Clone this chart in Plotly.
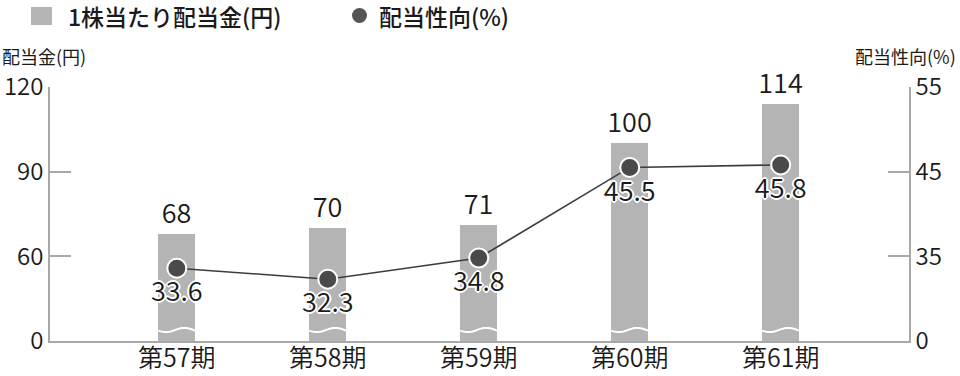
import numpy as np
import plotly.graph_objects as go

# ---- data ----
periods = ["第57期", "第58期", "第59期", "第60期", "第61期"]
dividend = [68, 70, 71, 100, 114]          # 1株当たり配当金(円)
payout = [33.6, 32.3, 34.8, 45.5, 45.8]    # 配当性向(%)
left_tick_vals = [30, 60, 90, 120]
left_tick_text = ["0", "60", "90", "120"]
right_tick_vals = [25, 35, 45, 55]
right_tick_text = ["0", "35", "45", "55"]

FONT = "Noto Sans CJK JP"
TXT = "#1a1a1a"
BAR = "#b4b4b4"
DOT = "#4a4a4a"
AXIS = "#a8a8a8"
WT = 350
xs = list(range(len(periods)))
BW = 0.245

outline = ("2px 0 0 #fff, -2px 0 0 #fff, 0 2px 0 #fff, 0 -2px 0 #fff, "
           "1px 1px 0 #fff, -1px -1px 0 #fff, 1px -1px 0 #fff, -1px 1px 0 #fff")

fig = go.Figure()
fig.add_trace(go.Bar(
    x=xs, y=dividend, width=BW, marker=dict(color=BAR, line=dict(width=0)),
    text=[str(v) for v in dividend], textposition="outside", cliponaxis=False,
    constraintext="none",
    textfont=dict(family=FONT, size=27, color=TXT, weight=WT), showlegend=False, yaxis="y",
))
fig.add_trace(go.Scatter(
    x=xs, y=payout, mode="lines+markers+text", yaxis="y2",
    line=dict(color="#3c3c3c", width=1.6),
    marker=dict(size=19, color=DOT, line=dict(color="white", width=2)),
    text=[f"{v:.1f}" for v in payout], textposition="bottom center",
    textfont=dict(family=FONT, size=27, color=TXT, shadow=outline, weight=WT),
    showlegend=False, cliponaxis=False,
))

# wavy break marks on bars (axis break indicator)
shapes = []
for i in xs:
    t = np.linspace(0, 1, 25)
    px = i - BW / 2 + t * BW
    py = 33.9 + 0.75 * np.sin(2 * np.pi * t - np.pi * 0.9)
    path = "M " + " L ".join(f"{a:.4f},{b:.4f}" for a, b in zip(px, py))
    shapes.append(dict(type="path", path=path, xref="x", yref="y",
                       line=dict(color="white", width=2), layer="above"))

tickfont = dict(family=FONT, size=24, color=TXT, weight=WT)

fig.update_layout(
    width=960, height=376,
    margin=dict(l=50, r=51, t=87, b=35),
    paper_bgcolor="white", plot_bgcolor="white",
    font=dict(family=FONT, color=TXT),
    bargap=0,
    xaxis=dict(
        range=[-0.84, 4.85], tickvals=xs, ticktext=periods,
        tickfont=dict(family=FONT, size=25, color=TXT, weight=WT),
        ticklabelstandoff=-6,
        showline=True, linecolor=AXIS, linewidth=1.5, showgrid=False,
        ticks="", zeroline=False, automargin=False,
    ),
    yaxis=dict(
        range=[30, 120], tickvals=left_tick_vals, ticktext=left_tick_text,
        tickfont=tickfont, automargin=False,
        showline=True, linecolor=AXIS, linewidth=1.5, showgrid=False,
        ticks="inside", ticklen=21, tickcolor=AXIS, tickwidth=1.5,
        zeroline=False,
    ),
    yaxis2=dict(
        range=[25, 55], tickvals=right_tick_vals, ticktext=right_tick_text,
        overlaying="y", side="right", automargin=False,
        tickfont=tickfont,
        showline=True, linecolor=AXIS, linewidth=1.5, showgrid=False,
        ticks="inside", ticklen=21, tickcolor=AXIS, tickwidth=1.5,
        zeroline=False,
    ),
    shapes=shapes,
)

# legend items & axis titles positioned in paper coords
W, H = 960, 376
pw = W - 50 - 51
ph = H - 87 - 35
def px2paper(x, y):
    return (x - 50) / pw, (H - 35 - y) / ph

x0, y0 = px2paper(31, 7)
x1, y1 = px2paper(52, 25)
fig.add_shape(type="rect", xref="paper", yref="paper", x0=x0, x1=x1, y0=y1, y1=y0,
              fillcolor=BAR, line=dict(width=0))
cx0, cy0 = px2paper(352, 8)
cx1, cy1 = px2paper(367, 23)
fig.add_shape(type="circle", xref="paper", yref="paper", x0=cx0, x1=cx1, y0=cy1, y1=cy0,
              fillcolor="#555555", line=dict(width=0))

lx, ly = px2paper(66, 16)
fig.add_annotation(x=lx, y=ly, xref="paper", yref="paper", xanchor="left", yanchor="middle",
                   text="1株当たり配当金(円)", showarrow=False,
                   font=dict(family=FONT, size=23, color=TXT, weight=500))
lx, ly = px2paper(377, 16)
fig.add_annotation(x=lx, y=ly, xref="paper", yref="paper", xanchor="left", yanchor="middle",
                   text="配当性向(%)", showarrow=False,
                   font=dict(family=FONT, size=23, color=TXT, weight=500))
lx, ly = px2paper(0, 56)
fig.add_annotation(x=lx, y=ly, xref="paper", yref="paper", xanchor="left", yanchor="middle",
                   text="配当金(円)", showarrow=False,
                   font=dict(family=FONT, size=18, color=TXT))
lx, ly = px2paper(958, 56)
fig.add_annotation(x=lx, y=ly, xref="paper", yref="paper", xanchor="right", yanchor="middle",
                   text="配当性向(%)", showarrow=False,
                   font=dict(family=FONT, size=18, color=TXT))

fig.write_html("out.html")
